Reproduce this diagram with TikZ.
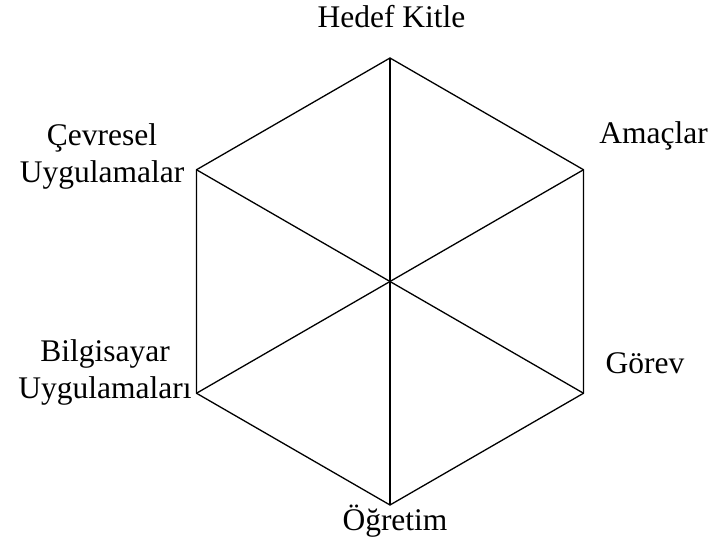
\documentclass[tikz,border=0pt]{standalone}
\usepackage{fontspec}
\setmainfont{Liberation Serif}
\begin{document}
\begin{tikzpicture}[x=1pt,y=-1pt,
  lbl/.style={inner sep=0pt,anchor=base,align=center,font=\fontsize{31.5}{37}\selectfont},
  edge/.style={line width=1.3pt,line join=miter}]
\useasboundingbox (0,0) rectangle (718,540);
\coordinate (c) at (390,281.5);
\coordinate (t) at (390,58);
\coordinate (ur) at (583.5,169.75);
\coordinate (lr) at (583.5,393.25);
\coordinate (b) at (390,505);
\coordinate (ll) at (196.5,393.25);
\coordinate (ul) at (196.5,169.75);
\draw[edge] (t) -- (ur) -- (lr) -- (b) -- (ll) -- (ul) -- cycle;
\draw[edge] (t) -- (b);
\draw[edge] (ul) -- (lr);
\draw[edge] (ll) -- (ur);
\node[lbl] (hk) at (391.5,28) {Hedef Kitle};
\node[lbl] (am) at (653.5,144) {Amaçlar};
\node[lbl] (gr) at (645,373) {Görev};
\node[lbl] (og) at (395,530) {Öğretim};
\node[lbl] (cu) at (102,183) {Çevresel\\Uygulamalar};
\node[lbl] (bu) at (105,398) {Bilgisayar\\Uygulamaları};
\end{tikzpicture}
\end{document}
